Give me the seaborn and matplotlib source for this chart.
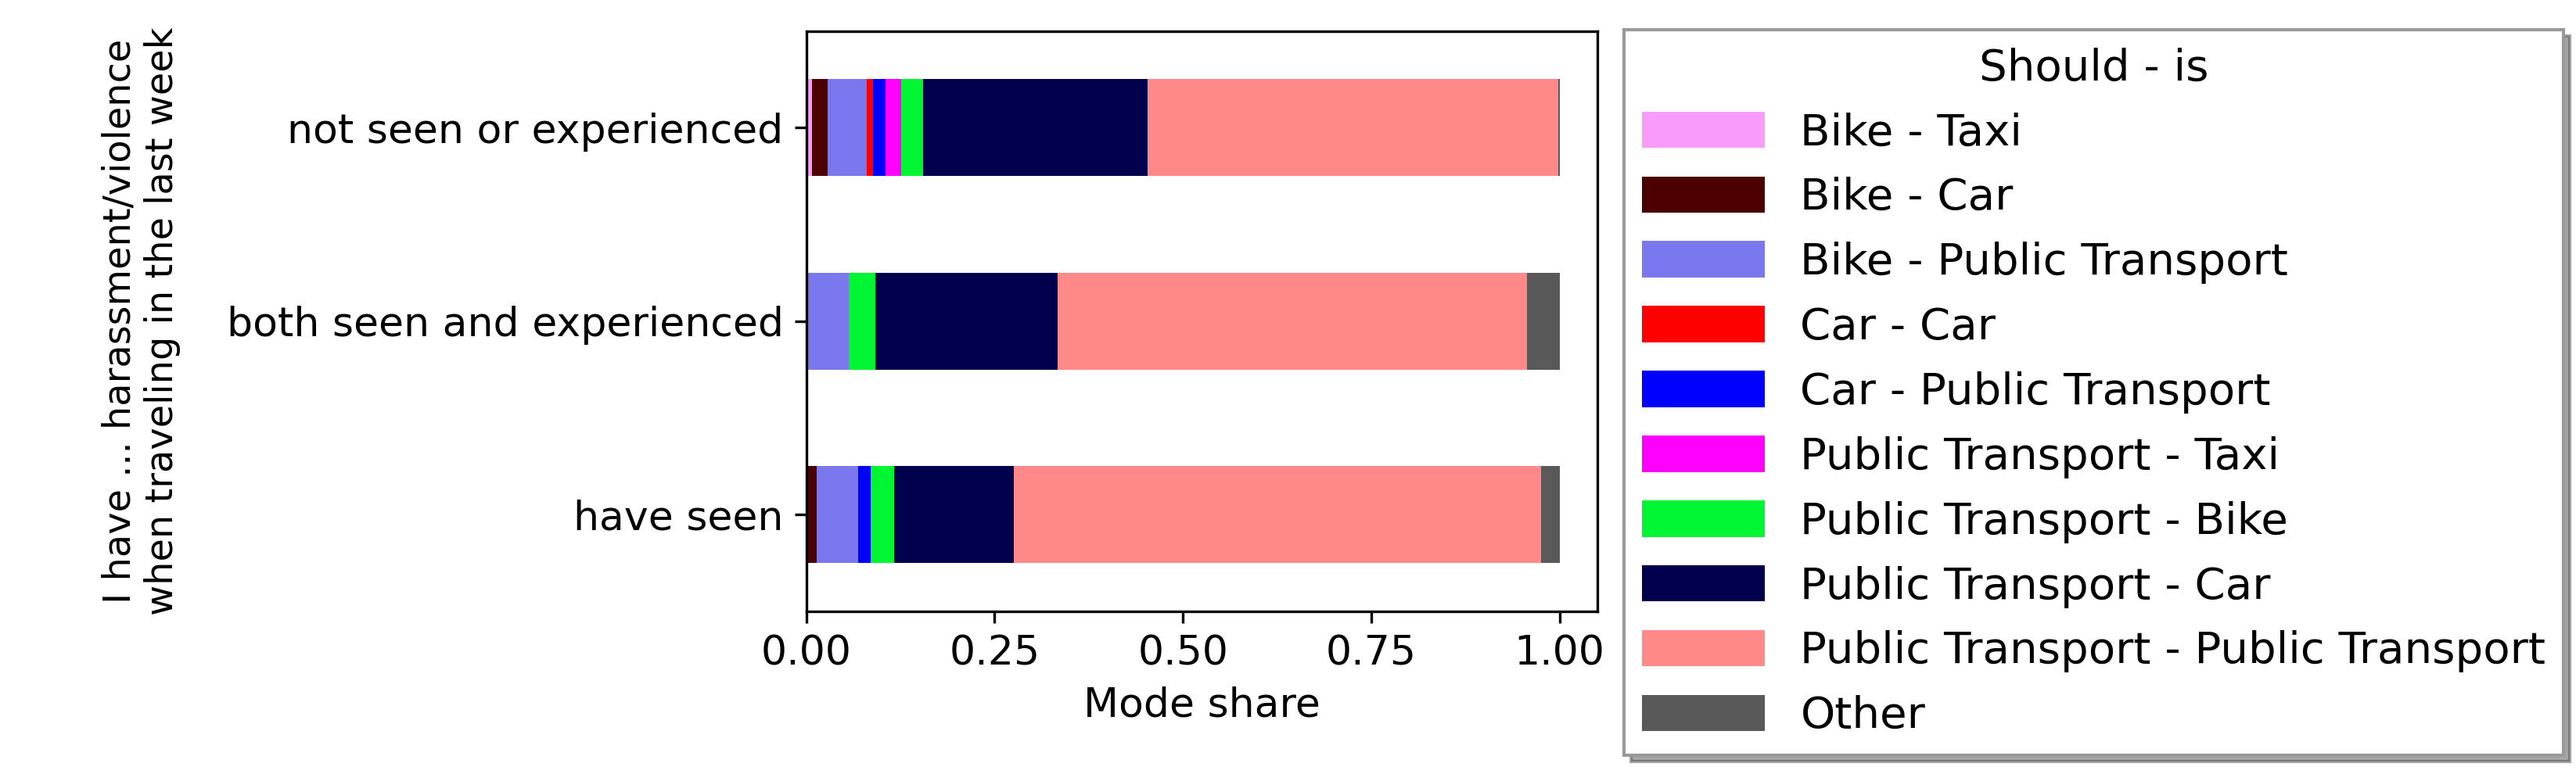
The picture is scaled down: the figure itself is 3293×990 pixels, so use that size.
import numpy as np
import pandas as pd
import seaborn as sns
import matplotlib.pyplot as plt
from matplotlib.patches import Patch

groups = ['not seen or experienced', 'both seen and experienced', 'have seen']
combos = ['Bike - Taxi', 'Bike - Car', 'Bike - Public Transport', 'Car - Car',
          'Car - Public Transport', 'Public Transport - Taxi', 'Public Transport - Bike',
          'Public Transport - Car', 'Public Transport - Public Transport', 'Other']
colors = ['#f99cf9', '#4d0000', '#7b78ee', '#ff0000', '#0000ff', '#ff00ff',
          '#00f533', '#00004d', '#ff8888', '#595959']

# shares per group, in combo order
not_seen = [0.008, 0.020, 0.052, 0.009, 0.016, 0.021, 0.029, 0.298, 0.545, 0.002]
both_seen = [0.0, 0.0, 0.056, 0.0, 0.0, 0.0, 0.036, 0.242, 0.623, 0.043]
have_seen = [0.0, 0.0135, 0.0555, 0.0, 0.016, 0.0, 0.032, 0.159, 0.699, 0.025]

df = pd.DataFrame([not_seen, both_seen, have_seen], index=groups, columns=combos)
cum = df.cumsum(axis=1)

fs = 12.5
fig = plt.figure(figsize=(10.977, 3.3), dpi=300)
ax = fig.add_axes([0.313, 0.21, 0.307, 0.75])

# draw cumulative bars from the right so each segment shows
for i in range(len(combos) - 1, -1, -1):
    d = pd.DataFrame({'group': groups, 'share': cum[combos[i]].values})
    sns.barplot(data=d, x='share', y='group', order=groups, color=colors[i],
                saturation=1, width=0.5, ax=ax, linewidth=0)

ax.set_xlim(0, 1.05)
ax.set_xticks([0, 0.25, 0.5, 0.75, 1.0])
ax.set_xticklabels(['0.00', '0.25', '0.50', '0.75', '1.00'])
ax.tick_params(labelsize=fs)
ax.set_xlabel('Mode share', fontsize=fs)
ax.set_ylabel('I have ... harassment/violence\nwhen traveling in the last week', fontsize=11.5, labelpad=14)

handles = [Patch(facecolor=c, edgecolor='none') for c in colors]
fig.legend(handles, combos, title='Should - is', loc='upper left',
           bbox_to_anchor=(0.622, 0.99), fontsize=13.5, title_fontsize=13.5,
           handlelength=2.8, handleheight=0.9, labelspacing=0.5,
           fancybox=False, shadow=True, edgecolor='#999999')

fig.savefig('out.png', dpi=300)
